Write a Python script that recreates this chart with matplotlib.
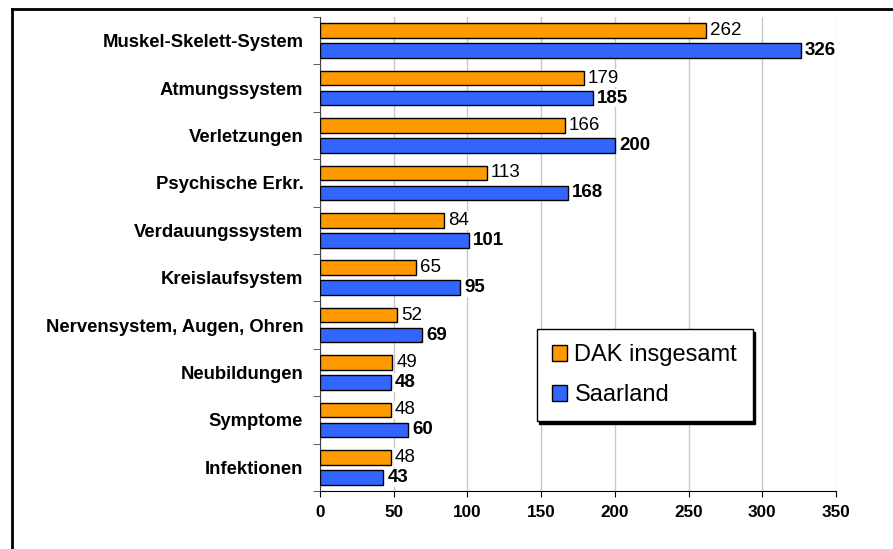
import matplotlib.pyplot as plt
from matplotlib.lines import Line2D
import numpy as np

categories = [
    "Muskel-Skelett-System",
    "Atmungssystem",
    "Verletzungen",
    "Psychische Erkr.",
    "Verdauungssystem",
    "Kreislaufsystem",
    "Nervensystem, Augen, Ohren",
    "Neubildungen",
    "Symptome",
    "Infektionen",
]
dak = [262, 179, 166, 113, 84, 65, 52, 49, 48, 48]
saarland = [326, 185, 200, 168, 101, 95, 69, 48, 60, 43]

plt.rcParams["font.family"] = ["Liberation Sans", "DejaVu Sans"]

fig = plt.figure(figsize=(8.93, 5.49), dpi=100)
ax = fig.add_axes([320 / 893, 1 - 491 / 549, 516 / 893, 474 / 549])

y = np.arange(len(categories))
h = 0.31
off = 0.21
ax.barh(y - off, dak, height=h, color="#FF9900", edgecolor="black", lw=1,
        label="DAK insgesamt", zorder=3)
ax.barh(y + off, saarland, height=h, color="#3366FF", edgecolor="black", lw=1,
        label="Saarland", zorder=3)

for yy, v in zip(y - off, dak):
  ax.annotate(str(v), (v, yy), xytext=(3, 0), textcoords="offset points",
              va="center", ha="left", fontsize=13.5, zorder=4,
              bbox=dict(facecolor="white", edgecolor="none", pad=0.5))
for yy, v in zip(y + off, saarland):
  ax.annotate(str(v), (v, yy), xytext=(3, 0), textcoords="offset points",
              va="center", ha="left", fontsize=13.5, fontweight="bold", zorder=4,
              bbox=dict(facecolor="white", edgecolor="none", pad=0.5))

ax.set_xlim(0, 350)
ax.set_ylim(len(categories) - 0.5, -0.5)
ax.set_xticks(np.arange(0, 351, 50))
ax.set_xticklabels([str(t) for t in range(0, 351, 50)], fontweight="bold", fontsize=12.3)
ax.set_yticks(y)
ax.set_yticklabels(categories, fontweight="bold", fontsize=13.3)
ax.set_yticks(np.arange(-0.5, len(categories)), minor=True)
ax.tick_params(axis="y", which="major", length=0, pad=12)
ax.tick_params(axis="y", which="minor", length=5, color="#404040", direction="out")
ax.tick_params(axis="x", length=4, direction="out", pad=6)

ax.grid(axis="x", color="#C8C8C8", lw=1, zorder=0)
ax.spines["top"].set_visible(False)
ax.spines["right"].set_visible(False)
ax.spines["left"].set_color("#404040")

leg = ax.legend(loc="upper left", bbox_to_anchor=(0.42, 0.342), fontsize=17,
                frameon=True, fancybox=False, shadow={"color": "black", "alpha": 1},
                edgecolor="black", handlelength=0.65, handleheight=0.65,
                handletextpad=0.3, labelspacing=0.75, borderpad=0.65, borderaxespad=0)
leg.get_frame().set_linewidth(1)

# figure border (top and left edge)
top = 1 - 8.5 / 549
left = 11.5 / 893
fig.add_artist(Line2D([left, 1.0], [top, top], color="black", lw=2))
fig.add_artist(Line2D([left, left], [0.0, top], color="black", lw=2))

fig.savefig("out.png", dpi=100)
